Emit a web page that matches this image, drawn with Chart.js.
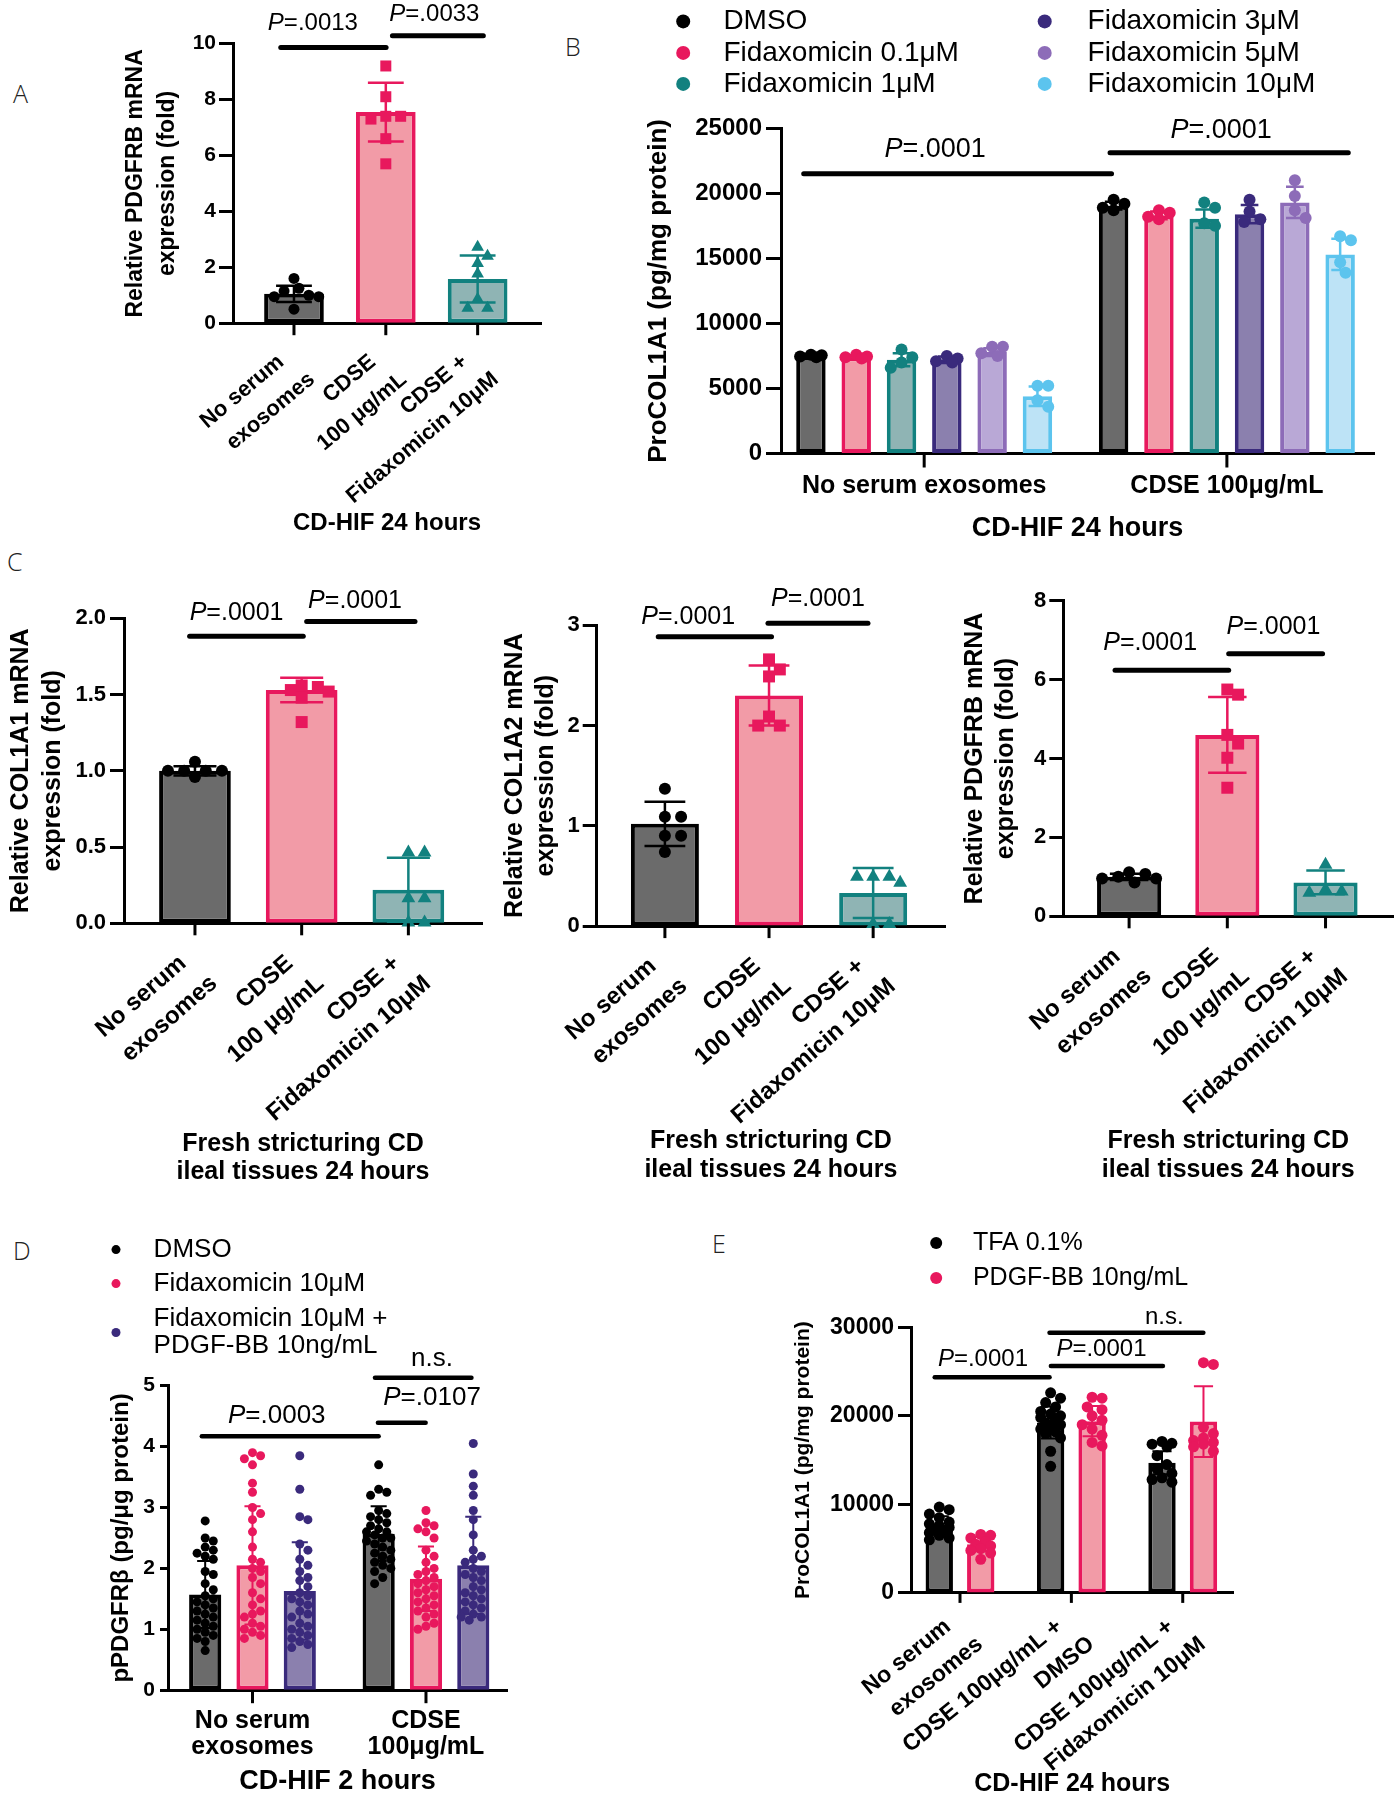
<!DOCTYPE html>
<html>
<head>
<meta charset="utf-8">
<script src="https://cdn.jsdelivr.net/npm/chart.js@4.4.1/dist/chart.umd.min.js"></script>
<style>
  body { margin: 0; background: #fff; }
  #page { position: relative; width: 1400px; height: 1800px; overflow: hidden; background: #fff; }
  #page canvas { position: absolute; }
  .lt { position: absolute; font: 300 25px "Open Sans", sans-serif; color: #222; line-height: 1; }
</style>
</head>
<body>
<div id="page">
  <div class="lt" style="left:13px;top:81px">A</div>
  <div class="lt" style="left:565px;top:34px">B</div>
  <div class="lt" style="left:7px;top:549px">C</div>
  <div class="lt" style="left:13px;top:1238px">D</div>
  <div class="lt" style="left:712px;top:1231px">E</div>
</div>
<script>
const FAM = '"Liberation Sans", Arial, Helvetica, sans-serif';
Chart.defaults.font.family = FAM;
Chart.defaults.color = '#000';

// colours
const BLK = '#000000', GRY = '#6b6b6b';
const PNK = '#e8185d', PNKL = '#f29ba7';
const TEA = '#12817f', TEAL = '#8fb4b4';
const NAV = '#3a2a7c', NAVL = '#8b80ae';
const LAV = '#8d6cb8', LAVL = '#b9a8d6';
const SKY = '#5cc4ee', SKYL = '#bde3f6';

// ---------- A : PDGFRB mRNA, CD-HIF 24 h ----------
const catsA = [["No serum", "exosomes"], ["CDSE", "100 μg/mL"], ["CDSE +", "Fidaxomicin 10μM"]];
const meanA = [1.05, 7.55, 1.58];
const sdA = [0.29, 1.05, 0.84];
const ptsA = [
  [1.6, 1.25, 1.15, 1.0, 0.95, 0.95, 0.5],
  [9.2, 8.1, 7.4, 7.4, 7.3, 6.6, 5.7],
  [2.75, 2.43, 2.17, 1.79, 0.89, 0.57, 0.57]
];
// [from, to, y, textX, textY, label]
const sigA = [[-0.144, 1.003, 9.86, 0.206, 10.73, "P=.0013"], [1.072, 2.062, 10.28, 1.529, 11.05, "P=.0033"]];

// ---------- B : ProCOL1A1, dose series ----------
const groupsB = ["No serum exosomes", "CDSE 100μg/mL"];
const seriesB = ["DMSO", "Fidaxomicin 0.1μM", "Fidaxomicin 1μM", "Fidaxomicin 3μM", "Fidaxomicin 5μM", "Fidaxomicin 10μM"];
const meanB = [[7500, 19050], [7400, 18300], [7200, 18050], [7200, 18400], [7800, 19300], [4400, 15300]];
const sdB = [[150, 300], [150, 300], [500, 700], [250, 700], [300, 1200], [750, 1200]];
const ptsB = [
  [[7600, 7550, 7450, 7400], [19500, 19200, 18900, 18700]],
  [[7600, 7450, 7400, 7300], [18700, 18500, 18200, 18000]],
  [[8000, 7400, 7000, 6600], [19300, 18900, 17700, 17500]],
  [[7500, 7300, 7100, 7000], [19500, 18600, 18000, 17800]],
  [[8200, 8200, 7700, 7500], [21000, 19800, 18700, 18100]],
  [[5200, 5200, 4100, 3600], [16700, 16400, 14700, 13900]]
];
const sigB = [[-0.398, 0.619, 21500, 0.036, 23350, "P=.0001"], [0.614, 1.401, 23120, 0.981, 24850, "P=.0001"]];

// ---------- C : fresh stricturing CD ileal tissue ----------
const catsC = [["No serum", "exosomes"], ["CDSE", "100 μg/mL"], ["CDSE +", "Fidaxomicin 10μM"]];
const meanC1 = [1.0, 1.53, 0.22];
const sdC1 = [0.03, 0.08, 0.21];
const ptsC1 = [[1.06, 1.0, 1.0, 1.0, 1.0, 0.96], [1.56, 1.55, 1.53, 1.52, 1.48, 1.32], [0.47, 0.47, 0.17, 0.17, 0.01, 0.01]];
const sigC1 = [[-0.05, 1.015, 1.883, 0.39, 2.035, "P=.0001"], [1.047, 2.062, 1.98, 1.5, 2.115, "P=.0001"]];
const meanC2 = [1.02, 2.3, 0.33];
const sdC2 = [0.22, 0.3, 0.25];
const ptsC2 = [[1.37, 1.09, 1.09, 0.9, 0.9, 0.74], [2.66, 2.56, 2.49, 2.09, 2.0, 2.0], [0.5, 0.44, 0.5, 0.5, 0.03, 0.03]];
const sigC2 = [[-0.064, 1.024, 2.885, 0.224, 3.08, "P=.0001"], [0.99, 1.95, 3.02, 1.47, 3.26, "P=.0001"]];
const meanC3 = [1.0, 4.6, 0.86];
const sdC3 = [0.08, 0.96, 0.3];
const ptsC3 = [[1.12, 1.07, 1.0, 0.96, 0.96, 0.86], [5.75, 5.62, 4.6, 4.38, 4.02, 3.26], [1.33, 0.7, 0.65, 0.62]];
const sigC3 = [[-0.143, 1.014, 6.24, 0.214, 6.92, "P=.0001"], [1.014, 1.97, 6.66, 1.47, 7.33, "P=.0001"]];

// ---------- D : pPDGFRb, CD-HIF 2 h ----------
const groupsD = [["No serum", "exosomes"], ["CDSE", "100μg/mL"]];
const seriesD = ["DMSO", "Fidaxomicin 10μM", ["Fidaxomicin 10μM +", "PDGF-BB 10ng/mL"]];
const meanD = [[1.57, 2.57], [2.05, 1.83], [1.63, 2.05]];
const sdD = [[0.55, 0.45], [0.97, 0.53], [0.8, 0.8]];
const ptsD = [
  [[2.78, 2.5, 2.45, 2.35, 2.3, 2.25, 2.2, 2.15, 1.95, 1.9, 1.75, 1.65, 1.55, 1.5, 1.45, 1.4, 1.35, 1.3, 1.25, 1.2, 1.15, 1.1, 1.05, 1.0, 0.95, 0.9, 0.85, 0.8, 0.65],
   [3.7, 3.3, 3.25, 3.2, 2.95, 2.9, 2.85, 2.8, 2.75, 2.7, 2.65, 2.6, 2.6, 2.55, 2.5, 2.5, 2.45, 2.4, 2.35, 2.3, 2.25, 2.2, 2.15, 2.1, 2.05, 2.0, 1.95, 1.85, 1.75]],
  [[3.9, 3.85, 3.8, 3.7, 3.4, 3.25, 3.0, 2.9, 2.8, 2.6, 2.35, 2.15, 2.1, 2.0, 1.95, 1.85, 1.75, 1.6, 1.5, 1.4, 1.3, 1.25, 1.2, 1.1, 1.05, 1.0, 0.95, 0.9, 0.85],
   [2.95, 2.75, 2.7, 2.65, 2.6, 2.5, 2.3, 2.2, 2.1, 2.0, 1.95, 1.9, 1.85, 1.8, 1.75, 1.7, 1.65, 1.6, 1.55, 1.5, 1.45, 1.4, 1.35, 1.3, 1.25, 1.2, 1.1, 1.05, 1.0]],
  [[3.85, 3.3, 2.85, 2.8, 2.4, 2.3, 2.15, 2.05, 1.95, 1.85, 1.8, 1.7, 1.6, 1.55, 1.5, 1.45, 1.4, 1.3, 1.25, 1.2, 1.1, 1.05, 1.0, 0.95, 0.9, 0.85, 0.8, 0.75, 0.7],
   [4.05, 3.55, 3.35, 3.2, 2.95, 2.8, 2.55, 2.3, 2.2, 2.15, 2.1, 2.0, 1.95, 1.9, 1.85, 1.8, 1.7, 1.65, 1.6, 1.55, 1.5, 1.45, 1.4, 1.35, 1.3, 1.25, 1.2, 1.2, 1.15]]
];
const sigD = [[-0.292, 0.727, 4.17, 0.14, 4.5, "P=.0003"], [0.723, 0.998, 4.39, 1.035, 4.8, "P=.0107"], [0.706, 1.262, 5.13, 1.035, 5.44, "n.s."]];

// ---------- E : ProCOL1A1 with PDGF-BB, CD-HIF 24 h ----------
const groupsE = [["No serum", "exosomes"], ["CDSE 100μg/mL +", "DMSO"], ["CDSE 100μg/mL +", "Fidaxomicin 10μM"]];
const seriesE = ["TFA 0.1%", "PDGF-BB 10ng/mL"];
const meanE = [[7650, 19250, 14700], [5500, 19400, 19350]];
const sdE = [[1000, 1800, 1300], [800, 1700, 4000]];
const ptsE = [
  [[9700, 9400, 8900, 8500, 8000, 7800, 7600, 7400, 7200, 7000, 6800, 6500, 6200, 6000],
   [22600, 22000, 21500, 21000, 20500, 20200, 20000, 19800, 19500, 19200, 19000, 18800, 18500, 18200, 18000, 17500, 16000, 14300],
   [17100, 16900, 16800, 16500, 15500, 14500, 14000, 13500, 13000, 12800, 12500]],
  [[6600, 6500, 6200, 5800, 5500, 5300, 5000, 4800, 4500, 3800],
   [22100, 22000, 21000, 20700, 20000, 19500, 19000, 18500, 17800, 17000, 16600],
   [26000, 25800, 18700, 18000, 17500, 17200, 17000, 16800, 16500, 16000]]
];
const sigE = [[-0.227, 0.804, 24360, 0.206, 26330, "P=.0001"], [0.816, 1.822, 25620, 1.27, 27500, "P=.0001"], [0.804, 2.185, 29380, 1.835, 31170, "n.s."]];

// ---------- helpers ----------
const pick = (v, i) => Array.isArray(v) ? v[i] : v;

// spread points sideways so they do not sit on top of each other
function swarm(ys, r, half) {
  const out = new Array(ys.length).fill(0);
  const placed = [];
  const order = ys.map((y, i) => i).sort((a, b) => ys[a] - ys[b]);
  const step = r * 0.9;
  order.forEach(i => {
    let best = 0, bestGap = -1;
    for (let k = 0; k < 60; k++) {
      const c = (k % 2 ? 1 : -1) * Math.ceil(k / 2) * step;
      if (Math.abs(c) > half) continue;
      let gap = Infinity;
      placed.forEach(q => { gap = Math.min(gap, Math.hypot(q[0] - c, q[1] - ys[i])); });
      if (gap >= 1.9 * r) { best = c; break; }
      if (gap > bestGap) { bestGap = gap; best = c; }
    }
    out[i] = best;
    placed.push([best, ys[i]]);
  });
  return out;
}

function marker(ctx, type, x, y, r) {
  ctx.beginPath();
  if (type === 'square') ctx.rect(x - r, y - r, 2 * r, 2 * r);
  else if (type === 'triangle') {
    ctx.moveTo(x, y - r * 1.2); ctx.lineTo(x + r * 1.15, y + r * 0.8); ctx.lineTo(x - r * 1.15, y + r * 0.8); ctx.closePath();
  } else ctx.arc(x, y, r, 0, Math.PI * 2);
  ctx.fill();
}

// "P" in italics, rest upright
function pText(ctx, t, x, y, size) {
  ctx.textBaseline = 'middle'; ctx.textAlign = 'left'; ctx.fillStyle = '#000';
  const it = t.startsWith('P') ? 'P' : '';
  const rest = t.slice(it.length);
  ctx.font = `italic ${size}px ${FAM}`;
  const w1 = it ? ctx.measureText(it).width : 0;
  ctx.font = `${size}px ${FAM}`;
  const w2 = ctx.measureText(rest).width;
  const x0 = x - (w1 + w2) / 2;
  if (it) { ctx.font = `italic ${size}px ${FAM}`; ctx.fillText(it, x0, y); }
  ctx.font = `${size}px ${FAM}`;
  ctx.fillText(rest, x0 + w1, y);
}

function drawLegend(ctx, p) {
  const lg = p.legend;
  if (!lg) return;
  const [ox, oy] = p.box;
  ctx.font = `${lg.size}px ${FAM}`;
  ctx.textAlign = 'left'; ctx.textBaseline = 'middle';
  p.series.forEach((s, i) => {
    const [dx, tx, y] = lg.pos[i];
    ctx.fillStyle = pick(s.line, 0);
    ctx.beginPath(); ctx.arc(dx - ox, y - oy, lg.r, 0, Math.PI * 2); ctx.fill();
    ctx.fillStyle = '#000';
    const lines = [].concat(s.name);
    lines.forEach((t, k) => ctx.fillText(t, tx - ox, y - oy + (k - (lines.length - 1) / 2) * lg.lh));
  });
}

function decor(p) {
  return {
    id: 'decor',
    afterDatasetsDraw(chart) {
      const ctx = chart.ctx, ys = chart.scales.y;
      ctx.save();
      p.series.forEach((s, si) => {
        chart.getDatasetMeta(si).data.forEach((bar, gi) => {
          const col = pick(s.line, gi), m = s.mean[gi], sd = s.sd[gi];
          const cw = bar.width * p.cap;
          const y1 = ys.getPixelForValue(m + sd), y2 = ys.getPixelForValue(m - sd);
          ctx.strokeStyle = col; ctx.lineWidth = p.ebw; ctx.lineCap = 'butt';
          ctx.beginPath();
          ctx.moveTo(bar.x, y1); ctx.lineTo(bar.x, y2);
          ctx.moveTo(bar.x - cw, y1); ctx.lineTo(bar.x + cw, y1);
          ctx.moveTo(bar.x - cw, y2); ctx.lineTo(bar.x + cw, y2);
          ctx.stroke();
          const py = s.pts[gi].map(v => ys.getPixelForValue(v));
          const dx = swarm(py, p.r, bar.width / 2 - p.r * 0.6);
          ctx.fillStyle = col;
          py.forEach((y, k) => marker(ctx, pick(s.mark, gi), bar.x + dx[k], y, p.r));
        });
      });
      ctx.restore();
    },
    afterDraw(chart) {
      const ctx = chart.ctx, xs = chart.scales.x, ys = chart.scales.y;
      const base = chart.chartArea.bottom;
      const lab = p.lab;
      ctx.save();
      ctx.fillStyle = '#000'; ctx.strokeStyle = '#000';
      p.cats.forEach((c, i) => {
        const x = xs.getPixelForValue(i);
        ctx.lineWidth = 3; ctx.lineCap = 'butt';
        ctx.beginPath(); ctx.moveTo(x, base); ctx.lineTo(x, base + p.tickCat); ctx.stroke();
        const lines = [].concat(c);
        ctx.font = `bold ${lab.size}px ${FAM}`;
        ctx.textBaseline = 'middle';
        if (lab.rot) {
          // each line ends at the anchor, next line shifted down-right
          lines.forEach((t, k) => {
            ctx.save();
            ctx.translate(x + lab.dx + k * lab.ox, base + lab.dy + k * lab.oy);
            ctx.rotate(-lab.rot * Math.PI / 180);
            ctx.textAlign = 'right';
            ctx.fillText(t, 0, 0);
            ctx.restore();
          });
        } else {
          ctx.textAlign = 'center';
          lines.forEach((t, k) => ctx.fillText(t, x, base + lab.dy + k * lab.lh));
        }
      });
      ctx.lineCap = 'round'; ctx.lineWidth = p.sigW;
      p.sig.forEach(([a, b, v, tx, ty, t]) => {
        const y = ys.getPixelForValue(v);
        ctx.beginPath(); ctx.moveTo(xs.getPixelForValue(a), y); ctx.lineTo(xs.getPixelForValue(b), y); ctx.stroke();
        pText(ctx, t, xs.getPixelForValue(tx), ys.getPixelForValue(ty), p.sigFont);
      });
      drawLegend(ctx, p);
      ctx.restore();
    }
  };
}

function makePanel(p) {
  const [cx, cy, cw, ch] = p.box;
  const [L, T, R, B] = p.area;
  const cv = document.createElement('canvas');
  cv.width = cw; cv.height = ch;
  cv.style.left = cx + 'px'; cv.style.top = cy + 'px';
  document.getElementById('page').appendChild(cv);
  const ylh = p.yTitle.size * p.yTitle.lh, xlh = p.xTitle.size * p.xTitle.lh;
  return new Chart(cv, {
    type: 'bar',
    data: {
      datasets: p.series.map(s => ({
        data: s.mean.map((m, i) => ({ x: i, y: m })),
        backgroundColor: s.fill, borderColor: s.line,
        borderWidth: p.bw, borderSkipped: false,
        categoryPercentage: p.catPct, barPercentage: p.barPct
      }))
    },
    options: {
      responsive: false, animation: false, devicePixelRatio: 1,
      layout: { padding: { left: 0, top: T - cy, right: cx + cw - R, bottom: 0 } },
      plugins: { legend: { display: false }, tooltip: { enabled: false } },
      scales: {
        x: {
          type: 'linear', offset: false, min: p.xmin, max: p.xmax,
          afterBuildTicks: s => { s.ticks = p.cats.map((c, i) => ({ value: i })); },
          afterFit: s => { s.height = cy + ch - B; },
          ticks: { display: false }, grid: { display: false },
          border: { color: '#000', width: 3 },
          title: {
            display: true, text: p.xTitle.text, color: '#000',
            font: { size: p.xTitle.size, weight: 'bold', lineHeight: p.xTitle.lh },
            padding: { top: 0, bottom: cy + ch - p.xTitle.y - xlh / 2 }
          }
        },
        y: {
          min: p.ymin, max: p.ymax,
          afterFit: s => { s.width = L - cx; },
          ticks: { stepSize: p.step, color: '#000', padding: p.tick.pad, font: { size: p.tick.size, weight: 'bold' }, callback: p.fmt },
          grid: { drawOnChartArea: false, tickLength: p.tick.len, tickWidth: 3, tickColor: '#000' },
          border: { color: '#000', width: 3 },
          title: {
            display: true, text: p.yTitle.text, color: '#000',
            font: { size: p.yTitle.size, weight: 'bold', lineHeight: p.yTitle.lh },
            padding: { top: p.yTitle.x - cx - ylh / 2, bottom: 0 }
          }
        }
      }
    },
    plugins: [decor(p)]
  });
}

const one = (mean, sd, pts) => [{
  mean, sd, pts, line: [BLK, PNK, TEA], fill: [GRY, PNKL, TEAL], mark: ['circle', 'square', 'triangle']
}];
const rotA = { rot: 40, size: 22, dx: -13, dy: 36, ox: 31, oy: 17.5 };
const rotC = { rot: 41, size: 24, dx: -12, dy: 37, ox: 31, oy: 20 };
const fresh = ["Fresh stricturing CD", "ileal tissues 24 hours"];

// A
makePanel({
  box: [100, 0, 460, 545], area: [233, 43.6, 541, 323.2],
  xmin: -0.664, xmax: 2.69, ymin: 0, ymax: 10, step: 2, fmt: v => v,
  cats: catsA, lab: rotA, tickCat: 12,
  series: one(meanA, sdA, ptsA),
  catPct: 1, barPct: 0.65, bw: 4, r: 5.5, cap: 0.3, ebw: 2.5,
  tick: { size: 21, len: 14, pad: 3 },
  yTitle: { text: ["Relative PDGFRB mRNA", "expression (fold)"], size: 23, lh: 1.39, x: 135.7 },
  xTitle: { text: "CD-HIF 24 hours", size: 24, lh: 1.2, y: 523 },
  sig: sigA, sigFont: 24, sigW: 5
});

// B
const colB = [[BLK, GRY], [PNK, PNKL], [TEA, TEAL], [NAV, NAVL], [LAV, LAVL], [SKY, SKYL]];
makePanel({
  box: [600, 0, 800, 560], area: [781, 128.3, 1374, 453.5],
  xmin: -0.473, xmax: 1.486, ymin: 0, ymax: 25000, step: 5000, fmt: v => v,
  cats: groupsB, lab: { size: 25, dy: 32.2, lh: 28 }, tickCat: 14,
  series: seriesB.map((n, i) => ({ name: n, mean: meanB[i], sd: sdB[i], pts: ptsB[i], line: colB[i][0], fill: colB[i][1], mark: 'circle' })),
  catPct: 0.898, barPct: 0.65, bw: 4, r: 6, cap: 0.3, ebw: 2.5,
  tick: { size: 24, len: 15, pad: 4 },
  yTitle: { text: "ProCOL1A1 (pg/mg protein)", size: 26, lh: 1.2, x: 659 },
  xTitle: { text: "CD-HIF 24 hours", size: 27, lh: 1.2, y: 528.6 },
  sig: sigB, sigFont: 27, sigW: 5,
  legend: { size: 28, r: 7, lh: 30, pos: [[683.2, 723.4, 21.4], [683.2, 723.4, 52.9], [683.2, 723.4, 83.9], [1044.7, 1087.6, 21.4], [1044.7, 1087.6, 52.9], [1044.7, 1087.6, 83.9]] }
});

// C1, C2, C3
makePanel({
  box: [0, 580, 485, 610], area: [124, 618.4, 482, 923.3],
  xmin: -0.665, xmax: 2.69, ymin: 0, ymax: 2, step: 0.5, fmt: v => v.toFixed(1),
  cats: catsC, lab: rotC, tickCat: 12,
  series: one(meanC1, sdC1, ptsC1),
  catPct: 1, barPct: 0.672, bw: 4, r: 6, cap: 0.3, ebw: 2.5,
  tick: { size: 22, len: 14, pad: 4 },
  yTitle: { text: ["Relative COL1A1 mRNA", "expression (fold)"], size: 25, lh: 1.3, x: 21 },
  xTitle: { text: fresh, size: 25, lh: 1.14, y: 1172.2 },
  sig: sigC1, sigFont: 25, sigW: 5
});
makePanel({
  box: [490, 580, 458, 610], area: [596.7, 625.3, 945, 926.1],
  xmin: -0.655, xmax: 2.69, ymin: 0, ymax: 3, step: 1, fmt: v => v,
  cats: catsC, lab: rotC, tickCat: 12,
  series: one(meanC2, sdC2, ptsC2),
  catPct: 1, barPct: 0.653, bw: 4, r: 6, cap: 0.3, ebw: 2.5,
  tick: { size: 22, len: 14, pad: 3 },
  yTitle: { text: ["Relative COL1A2 mRNA", "expression (fold)"], size: 25, lh: 1.25, x: 515 },
  xTitle: { text: fresh, size: 25, lh: 1.14, y: 1170 },
  sig: sigC2, sigFont: 25, sigW: 5
});
makePanel({
  box: [950, 580, 450, 610], area: [1063.3, 600.8, 1393.3, 916.3],
  xmin: -0.67, xmax: 2.69, ymin: 0, ymax: 8, step: 2, fmt: v => v,
  cats: catsC, lab: rotC, tickCat: 12,
  series: one(meanC3, sdC3, ptsC3),
  catPct: 1, barPct: 0.653, bw: 4, r: 6, cap: 0.3, ebw: 2.5,
  tick: { size: 22, len: 14, pad: 3 },
  yTitle: { text: ["Relative PDGFRB mRNA", "expression (fold)"], size: 25, lh: 1.25, x: 975 },
  xTitle: { text: fresh, size: 25, lh: 1.14, y: 1170 },
  sig: sigC3, sigFont: 25, sigW: 5
});

// D
const colD = [[BLK, GRY], [PNK, PNKL], [NAV, NAVL]];
makePanel({
  box: [0, 1230, 560, 570], area: [168, 1385.7, 507, 1690.2],
  xmin: -0.487, xmax: 1.467, ymin: 0, ymax: 5, step: 1, fmt: v => v,
  cats: groupsD, lab: { size: 25, dy: 31.1, lh: 25.9 }, tickCat: 13,
  series: seriesD.map((n, i) => ({ name: n, mean: meanD[i], sd: sdD[i], pts: ptsD[i], line: colD[i][0], fill: colD[i][1], mark: 'circle' })),
  catPct: 0.818, barPct: 0.68, bw: 4, r: 4.5, cap: 0.25, ebw: 2,
  tick: { size: 21, len: 8, pad: 5 },
  yTitle: { text: "pPDGFRβ (pg/μg protein)", size: 24, lh: 1.2, x: 121 },
  xTitle: { text: "CD-HIF 2 hours", size: 27, lh: 1.2, y: 1782 },
  sig: sigD, sigFont: 26, sigW: 4.5,
  legend: { size: 26, r: 4.5, lh: 26.7, pos: [[116, 153.6, 1249.6], [116, 153.6, 1283.6], [116, 153.6, 1332.5]] }
});

// E
const colE = [[BLK, GRY], [PNK, PNKL]];
makePanel({
  box: [760, 1225, 520, 575], area: [911, 1327.3, 1233.3, 1592.9],
  xmin: -0.44, xmax: 2.454, ymin: 0, ymax: 30000, step: 10000, fmt: v => v,
  cats: groupsE, lab: { rot: 39, size: 23, dx: -12, dy: 31, ox: 32, oy: 17.5 }, tickCat: 10,
  series: seriesE.map((n, i) => ({ name: n, mean: meanE[i], sd: sdE[i], pts: ptsE[i], line: colE[i][0], fill: colE[i][1], mark: 'circle' })),
  catPct: 0.745, barPct: 0.66, bw: 4, r: 5.5, cap: 0.35, ebw: 2,
  tick: { size: 23, len: 13, pad: 4 },
  yTitle: { text: "ProCOL1A1 (pg/mg protein)", size: 21, lh: 1.2, x: 803 },
  xTitle: { text: "CD-HIF 24 hours", size: 25, lh: 1.2, y: 1784 },
  sig: sigE, sigFont: 24, sigW: 4.5,
  legend: { size: 25, r: 6, lh: 28, pos: [[936.2, 972.9, 1242.9], [936.2, 972.9, 1278.1]] }
});
</script>
</body>
</html>
